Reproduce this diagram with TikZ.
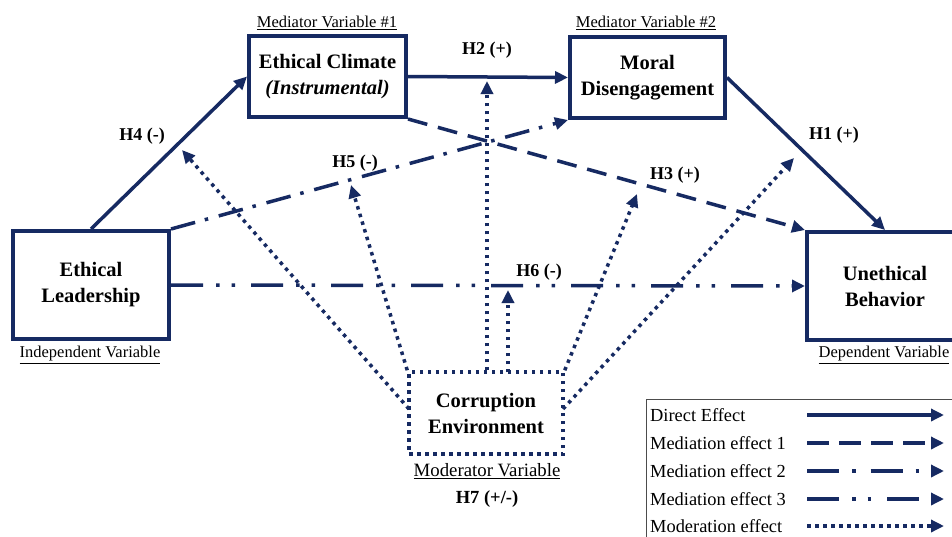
\documentclass[tikz,border=0pt]{standalone}
\usepackage{fontspec}
\setmainfont{Liberation Serif}
\usetikzlibrary{arrows.meta}
\definecolor{navy}{RGB}{22,42,98}
\tikzset{
  varbox/.style={draw=navy, line width=4pt, align=center, inner sep=0pt,
    font=\rmfamily\bfseries\fontsize{20.5}{26}\selectfont},
  modbox/.style={varbox, line width=3.5pt, dash pattern=on 3.5pt off 4.5pt},
  conn/.style={draw=navy, line width=3.5pt, -{Triangle[length=13pt,width=12pt]}},
  direct/.style={conn},
  medone/.style={conn, dash pattern=on 20pt off 11pt},
  medtwo/.style={conn, dash pattern=on 25pt off 10pt on 3.5pt off 11pt},
  medthree/.style={conn, dash pattern=on 32pt off 13pt on 3.5pt off 12pt on 3.5pt off 16pt},
  moder/.style={conn, dash pattern=on 3.5pt off 4.5pt},
  varlabel/.style={font=\rmfamily\fontsize{16.5}{18}\selectfont, inner sep=0pt},
  hyp/.style={font=\rmfamily\bfseries\fontsize{18}{20}\selectfont, inner sep=0pt},
  legtext/.style={font=\rmfamily\fontsize{18.4}{20}\selectfont, anchor=west, inner sep=0pt}
}
\begin{document}
\begin{tikzpicture}[x=1pt,y=-1pt]
\path[use as bounding box, clip] (0,0) rectangle (952,536);
\fill[white] (0,0) rectangle (952,536);

% boxes
\node[varbox, minimum width=157pt, minimum height=81pt] (clim) at (327.5,76.5) {Ethical Climate\\\textit{(Instrumental)}};
\node[varbox, minimum width=155pt, minimum height=81pt] (moral) at (647.5,77.5) {Moral\\Disengagement};
\node[varbox, minimum width=156pt, minimum height=108pt] (lead) at (91,285) {Ethical\\Leadership};
\node[varbox, minimum width=156pt, minimum height=108pt] (unb) at (885,286) {Unethical\\Behavior};
\node[modbox, minimum width=154pt, minimum height=82pt] (corr) at (486,413) {Corruption\\Environment};

% variable labels
\node[varlabel] (l1) at (327,23) {\underline{Mediator Variable \#1}};
\node[varlabel] (l2) at (646,23) {\underline{Mediator Variable \#2}};
\node[varlabel] (l3) at (90,355) {\underline{Independent Variable}};
\node[varlabel] (l4) at (884,355) {\underline{Dependent Variable}};
\node[varlabel, font=\rmfamily\fontsize{18.8}{20}\selectfont] (l5) at (487,471) {\underline{Moderator Variable}};

% direct and mediation paths
\draw[direct] (lead.north) -- (clim.west);
\draw[direct] (clim.east) -- (moral.west);
\draw[direct] (moral.east) -- (unb.north);
\draw[medone] (clim.south east) -- (unb.north west);
\draw[medtwo] (lead.north east) -- (moral.south west);
\draw[medthree] (lead.east) -- (unb.west);

% moderation arrows
\coordinate (t4) at (182,150);
\coordinate (t5) at (351,185);
\coordinate (t2) at (487,81);
\coordinate (s6) at (508,372);
\coordinate (t6) at (508,290);
\coordinate (t3) at (637,194);
\coordinate (t1) at (794,158);
\coordinate (s1) at (563,409);
\coordinate (s4) at (409,409);
\draw[moder] (s4) -- (t4);
\draw[moder] (corr.north west) -- (t5);
\draw[moder] (corr.north -| t2) -- (t2);
\draw[moder] (s6) -- (t6);
\draw[moder] (corr.north east) -- (t3);
\draw[moder] (s1) -- (t1);

% hypothesis labels
\node[hyp] (h4) at (142,136) {H4 (-)};
\node[hyp] (h2) at (487,50) {H2 (+)};
\node[hyp] (h5) at (355,163) {H5 (-)};
\node[hyp] (h1) at (834,135) {H1 (+)};
\node[hyp] (h3) at (675,175) {H3 (+)};
\node[hyp] (h6) at (539,272) {H6 (-)};
\node[hyp, font=\rmfamily\bfseries\fontsize{18.5}{20}\selectfont] (h7) at (487,499) {H7 (+/-)};

% legend
\draw[gray!60!black, line width=1pt] (646,399) rectangle (970,560);
\node[legtext] (g1) at (650,415) {Direct Effect};
\node[legtext] (g2) at (650,443) {Mediation effect 1};
\node[legtext] (g3) at (650,471) {Mediation effect 2};
\node[legtext] (g4) at (650,499) {Mediation effect 3};
\node[legtext] (g5) at (650,526) {Moderation effect};
\coordinate (a1) at (807,415); \coordinate (b1) at (944,415);
\coordinate (a2) at (807,443); \coordinate (b2) at (944,443);
\coordinate (a3) at (807,471); \coordinate (b3) at (944,471);
\coordinate (a4) at (807,499); \coordinate (b4) at (944,499);
\coordinate (a5) at (807,526); \coordinate (b5) at (944,526);
\draw[direct] (a1) -- (b1);
\draw[medone, dash pattern=on 22pt off 10pt] (a2) -- (b2);
\draw[medtwo, dash pattern=on 32pt off 13pt on 3.5pt off 15pt] (a3) -- (b3);
\draw[medthree] (a4) -- (b4);
\draw[moder] (a5) -- (b5);
\end{tikzpicture}
\end{document}
